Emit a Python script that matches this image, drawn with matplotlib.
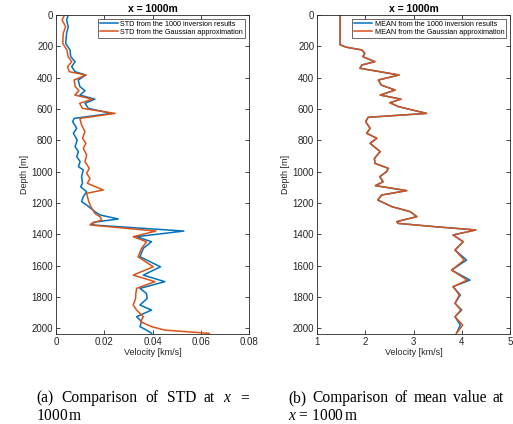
import matplotlib
matplotlib.use("Agg")
import matplotlib.pyplot as plt
import numpy as np

# STD data (depth in m, velocity in km/s)
std_blue_depth = [0, 32, 53, 74, 117, 181, 223, 266, 298, 330, 362, 383, 415, 457, 483, 511, 537, 564, 596, 628,
                  660, 681, 723, 755, 798, 840, 872, 904, 936, 968, 989, 1032, 1074, 1096, 1128, 1160, 1191,
                  1213, 1255, 1276, 1302, 1323, 1340, 1379, 1415, 1447, 1489, 1543, 1607, 1660, 1702, 1745,
                  1777, 1809, 1851, 1883, 1926, 1957, 1989, 2011, 2032]
std_blue = [0.0051, 0.0044, 0.0047, 0.0051, 0.0044, 0.0040, 0.0058, 0.0061, 0.0079, 0.0065, 0.0079, 0.0124,
            0.0092, 0.0099, 0.0120, 0.0099, 0.0161, 0.0120, 0.0134, 0.0230,
            0.0075, 0.0069, 0.0086, 0.0072, 0.0088, 0.0079, 0.0093, 0.0086, 0.0100, 0.0093, 0.0113, 0.0106,
            0.0110, 0.0102, 0.0127, 0.0113, 0.0106, 0.0127, 0.0161, 0.0182, 0.0258, 0.0155, 0.0150,
            0.0530, 0.0334, 0.0396, 0.0362, 0.0348, 0.0433, 0.0362, 0.0451, 0.0348, 0.0375, 0.0378, 0.0348,
            0.0396, 0.0334, 0.0355, 0.0348, 0.0375, 0.0396]
std_orange_depth = [0, 32, 74, 117, 181, 223, 266, 298, 330, 362, 383, 415, 457, 483, 511, 537, 564, 596, 628,
                    660, 702, 744, 787, 819, 851, 893, 936, 979, 1011, 1043, 1074, 1117, 1138, 1181, 1213, 1266,
                    1287, 1308, 1330, 1340, 1379, 1415, 1447, 1489, 1543, 1607, 1660, 1702, 1745, 1777, 1809,
                    1851, 1883, 1926, 1957, 1989, 2011, 2032]
std_orange = [0.0035, 0.0025, 0.0040, 0.0030, 0.0028, 0.0045, 0.0050, 0.0065, 0.0048, 0.0055, 0.0124, 0.0075,
              0.0080, 0.0095, 0.0078, 0.0150, 0.0098, 0.0110, 0.0245,
              0.0099, 0.0106, 0.0120, 0.0110, 0.0124, 0.0113, 0.0127, 0.0120, 0.0138, 0.0127, 0.0141, 0.0130,
              0.0196, 0.0127, 0.0134, 0.0141, 0.0161, 0.0182, 0.0190, 0.0148, 0.0141,
              0.0414, 0.0320, 0.0375, 0.0355, 0.0340, 0.0403, 0.0320, 0.0410, 0.0334, 0.0331, 0.0330, 0.0320,
              0.0334, 0.0362, 0.0350, 0.0396, 0.0451, 0.0635]

# MEAN data
mean_depth = [0, 190, 205, 223, 245, 266, 298, 319, 340, 383, 415, 447, 479, 511, 537, 560, 585, 628, 653, 681,
              723, 755, 787, 819, 872, 915, 947, 979, 1000, 1032, 1064, 1089, 1121, 1149, 1181, 1223, 1255,
              1287, 1319, 1330, 1351, 1372, 1404, 1447, 1500, 1564, 1628, 1692, 1734, 1787, 1840, 1883, 1926,
              1979, 2032]
mean_blue = [1.48, 1.48, 1.60, 1.93, 1.99, 1.95, 2.20, 1.93, 1.89, 2.70, 2.27, 2.33, 2.62, 2.31, 2.74, 2.51,
             2.69, 3.27, 2.06, 2.01, 2.10, 2.03, 2.24, 2.10, 2.31, 2.19, 2.20, 2.48, 2.44, 2.30, 2.37, 2.21,
             2.86, 2.34, 2.26, 2.55, 2.93, 3.07, 2.65, 2.68, 3.44, 4.29, 3.82, 4.03, 3.86, 4.10, 3.79, 4.17,
             3.82, 3.97, 3.86, 4.00, 3.86, 3.97, 3.89]
mean_orange = [1.48, 1.48, 1.60, 1.93, 1.99, 1.95, 2.20, 1.93, 1.89, 2.70, 2.27, 2.33, 2.62, 2.31, 2.74, 2.51,
               2.69, 3.27, 2.06, 2.01, 2.10, 2.03, 2.24, 2.10, 2.31, 2.19, 2.20, 2.48, 2.44, 2.30, 2.37, 2.21,
               2.86, 2.34, 2.26, 2.55, 2.93, 3.07, 2.65, 2.68, 3.44, 4.29, 3.82, 4.03, 3.86, 4.05, 3.79, 4.11,
               3.82, 3.95, 3.86, 3.98, 3.86, 4.02, 3.89]

# caption text (first lines justified)
caption_a_words = ['(a)', 'Comparison', 'of', 'STD', 'at', '$x$', '=']
caption_a_line2 = r'1000$\,$m'
caption_b_words = ['(b)', 'Comparison', 'of', 'mean', 'value', 'at']
caption_b_line2 = r'$x$ = 1000$\,$m'

BLUE = "#0072BD"
ORANGE = "#D95319"
plt.rcParams['font.family'] = ['Liberation Sans', 'DejaVu Sans']
plt.rcParams['mathtext.fontset'] = 'custom'
plt.rcParams['mathtext.it'] = 'Liberation Serif:italic'
plt.rcParams['mathtext.rm'] = 'Liberation Serif'

fig = plt.figure(figsize=(5.13, 4.24), dpi=100)

def style(ax, xlim, xticks, xticklabels):
    ax.set_ylim(2036, 0)
    ax.set_xlim(*xlim)
    ax.set_xticks(xticks)
    ax.set_xticklabels(xticklabels)
    ax.set_yticks(np.arange(0, 2001, 200))
    ax.tick_params(direction='in', top=True, right=True, length=3, width=0.6,
                   labelsize=7, colors='#262626', pad=2)
    for s in ax.spines.values():
        s.set_color('#262626')
        s.set_linewidth(0.6)
    ax.set_ylabel('Depth [m]', fontsize=6.5, color='#262626', labelpad=2)
    ax.set_xlabel('Velocity [km/s]', fontsize=6.5, color='#262626', labelpad=1)
    ax.set_title('x = 1000m', fontsize=7.5, fontweight='bold', pad=2)

def legend(ax):
    leg = ax.legend(loc='upper right', fontsize=5.2, frameon=True, fancybox=False, handlelength=2.6,
                    handletextpad=0.3, borderpad=0.25, labelspacing=0.15, borderaxespad=0.55)
    leg.get_frame().set_edgecolor('#262626')
    leg.get_frame().set_linewidth(0.6)

ax1 = fig.add_axes([56/513, 90/424, 193/513, 319/424])
ax1.plot(std_blue, std_blue_depth, color=BLUE, lw=1.1, label='STD from the 1000 inversion results')
ax1.plot(std_orange, std_orange_depth, color=ORANGE, lw=1.1, label='STD from the Gaussian approximation')
style(ax1, (0, 0.08), [0, 0.02, 0.04, 0.06, 0.08], ['0', '0.02', '0.04', '0.06', '0.08'])
legend(ax1)

ax2 = fig.add_axes([317/513, 90/424, 193/513, 319/424])
ax2.plot(mean_blue, mean_depth, color=BLUE, lw=1.1, label='MEAN from the 1000 inversion results')
ax2.plot(mean_orange, mean_depth, color=ORANGE, lw=1.1, label='MEAN from the Gaussian approximation')
style(ax2, (1, 5), [1, 2, 3, 4, 5], ['1', '2', '3', '4', '5'])
legend(ax2)

serif = ['Liberation Serif', 'DejaVu Serif']
fs = 11.2
y1 = 1 - 402.5/424
y2 = 1 - 420/424
W = 513.0
renderer = fig.canvas.get_renderer()

def justified(words, x0, x1, y):
    texts = [fig.text(x0/W, y, w, family=serif, fontsize=fs, va='baseline', ha='left') for w in words]
    widths = [t.get_window_extent(renderer).width for t in texts]
    gap = (x1 - x0 - sum(widths)) / (len(words) - 1)
    x = x0
    for t, wd in zip(texts, widths):
        t.set_x(x/W)
        x += wd + gap

justified(caption_a_words, 36, 249, y1)
fig.text(36/W, y2, caption_a_line2, family=serif, fontsize=fs, va='baseline', ha='left')
justified(caption_b_words, 288, 504, y1)
fig.text(288/W, y2, caption_b_line2, family=serif, fontsize=fs, va='baseline', ha='left')

fig.savefig('out.png', dpi=100)
